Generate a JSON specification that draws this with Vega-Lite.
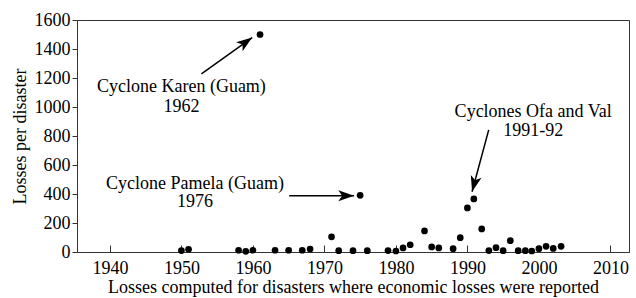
{
  "$schema": "https://vega.github.io/schema/vega-lite/v6.json",
  "width": 552,
  "height": 232,
  "autosize": {"type": "none"},
  "padding": {"left": 77, "top": 20, "right": 7, "bottom": 46},
  "background": "white",
  "config": {
    "font": "Liberation Serif",
    "view": {"stroke": "#333", "strokeWidth": 1},
    "axis": {
      "domainColor": "#333",
      "tickColor": "#333",
      "labelColor": "black",
      "titleColor": "black",
      "labelFont": "Liberation Serif",
      "titleFont": "Liberation Serif",
      "labelFontSize": 18,
      "titleFontSize": 18,
      "titleFontWeight": "normal",
      "grid": false
    }
  },
  "datasets": {
    "points": [
      {"year": 1950.0, "loss": 10}, {"year": 1951.0, "loss": 19},
      {"year": 1958.0, "loss": 12}, {"year": 1959.0, "loss": 5},
      {"year": 1960.0, "loss": 12}, {"year": 1961.0, "loss": 1500},
      {"year": 1963.1, "loss": 12}, {"year": 1965.0, "loss": 12},
      {"year": 1966.9, "loss": 12}, {"year": 1968.0, "loss": 20},
      {"year": 1971.0, "loss": 105}, {"year": 1972.0, "loss": 9},
      {"year": 1974.0, "loss": 9}, {"year": 1975.0, "loss": 391},
      {"year": 1976.0, "loss": 9}, {"year": 1978.9, "loss": 10},
      {"year": 1980.0, "loss": 7}, {"year": 1981.0, "loss": 28},
      {"year": 1982.0, "loss": 50}, {"year": 1984.0, "loss": 145},
      {"year": 1985.0, "loss": 35}, {"year": 1986.0, "loss": 28},
      {"year": 1988.0, "loss": 23}, {"year": 1989.0, "loss": 99},
      {"year": 1990.0, "loss": 304}, {"year": 1990.9, "loss": 366},
      {"year": 1992.0, "loss": 159}, {"year": 1993.0, "loss": 10},
      {"year": 1994.0, "loss": 30}, {"year": 1995.0, "loss": 9},
      {"year": 1996.0, "loss": 78}, {"year": 1997.1, "loss": 9},
      {"year": 1998.1, "loss": 9}, {"year": 1999.0, "loss": 7},
      {"year": 2000.0, "loss": 23}, {"year": 2001.0, "loss": 39},
      {"year": 2002.0, "loss": 25}, {"year": 2003.1, "loss": 39}
    ],
    "labels": [
      {"year": 1950.0, "loss": 1135, "text": "Cyclone Karen (Guam)"},
      {"year": 1950.0, "loss": 1000, "text": "1962"},
      {"year": 1951.9, "loss": 472, "text": "Cyclone Pamela (Guam)"},
      {"year": 1951.9, "loss": 343, "text": "1976"},
      {"year": 1999.2, "loss": 963, "text": "Cyclones Ofa and Val"},
      {"year": 1999.2, "loss": 835, "text": "1991-92"}
    ],
    "arrows": [
      {"id": "karen", "year": 1952.8, "loss": 1228, "year2": 1959.9, "loss2": 1479},
      {"id": "pamela", "year": 1965.07, "loss": 388, "year2": 1974.15, "loss2": 388},
      {"id": "ofa", "year": 1992.98, "loss": 842, "year2": 1990.65, "loss2": 416}
    ]
  },
  "encoding": {
    "x": {
      "field": "year",
      "type": "quantitative",
      "scale": {"domain": [1935.4, 2012.6], "nice": false, "zero": false},
      "axis": {
        "values": [1940, 1950, 1960, 1970, 1980, 1990, 2000, 2010],
        "format": "d",
        "labelFont": "Liberation Serif",
        "tickSize": -7,
        "labelPadding": 14,
        "title": "Losses computed for disasters where economic losses were reported",
        "titlePadding": 1
      }
    },
    "y": {
      "field": "loss",
      "type": "quantitative",
      "scale": {"domain": [0, 1600], "nice": false},
      "axis": {
        "values": [0, 200, 400, 600, 800, 1000, 1200, 1400, 1600],
        "format": "d",
        "labelFont": "Liberation Serif",
        "tickSize": 5,
        "labelPadding": 2,
        "title": "Losses per disaster",
        "titlePadding": 5
      }
    }
  },
  "layer": [
    {
      "data": {"name": "points"},
      "mark": {"type": "point", "filled": true, "shape": "circle", "size": 45, "color": "black", "opacity": 1}
    },
    {
      "data": {"name": "labels"},
      "mark": {"type": "text", "font": "Liberation Serif", "fontSize": 18, "align": "center", "baseline": "middle", "color": "black"},
      "encoding": {"text": {"field": "text"}}
    },
    {
      "data": {"name": "arrows"},
      "mark": {"type": "rule", "color": "black", "strokeWidth": 1.5},
      "encoding": {"x2": {"field": "year2"}, "y2": {"field": "loss2"}}
    },
    {
      "data": {"name": "arrows"},
      "transform": [{"filter": "datum.id === 'karen'"}],
      "mark": {"type": "point", "filled": true, "opacity": 1, "color": "black", "shape": "M0,0L-0.35,1L0,0.75L0.35,1Z", "size": 1000, "angle": 54.3},
      "encoding": {"x": {"field": "year2", "type": "quantitative"}, "y": {"field": "loss2", "type": "quantitative"}}
    },
    {
      "data": {"name": "arrows"},
      "transform": [{"filter": "datum.id === 'pamela'"}],
      "mark": {"type": "point", "filled": true, "opacity": 1, "color": "black", "shape": "M0,0L-0.35,1L0,0.75L0.35,1Z", "size": 1000, "angle": 90},
      "encoding": {"x": {"field": "year2", "type": "quantitative"}, "y": {"field": "loss2", "type": "quantitative"}}
    },
    {
      "data": {"name": "arrows"},
      "transform": [{"filter": "datum.id === 'ofa'"}],
      "mark": {"type": "point", "filled": true, "opacity": 1, "color": "black", "shape": "M0,0L-0.35,1L0,0.75L0.35,1Z", "size": 1000, "angle": 195.1},
      "encoding": {"x": {"field": "year2", "type": "quantitative"}, "y": {"field": "loss2", "type": "quantitative"}}
    }
  ]
}
